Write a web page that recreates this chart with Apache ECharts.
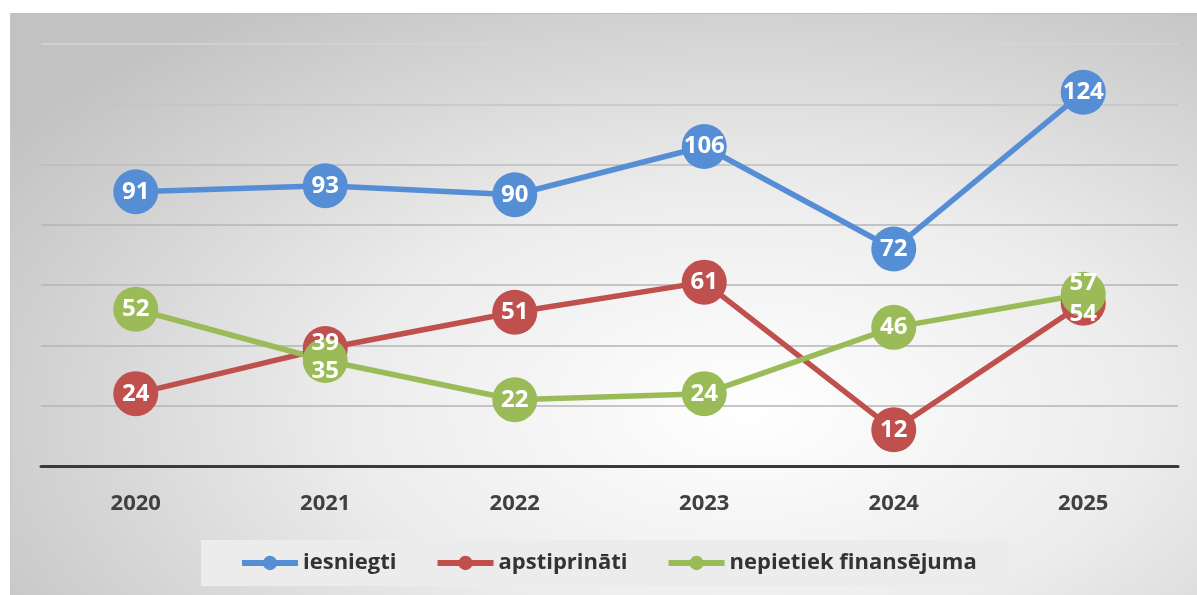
<!DOCTYPE html>
<html>
<head>
<meta charset="utf-8">
<script src="https://cdn.jsdelivr.net/npm/echarts@6/dist/echarts.min.js"></script>
<style>
html, body { margin: 0; padding: 0; background: #fff; }
#frame {
    position: absolute; left: 10px; top: 13px; width: 1187px; height: 582px;
    border-top: 1px solid #bdbdbd; border-left: 1px solid #c8c8c8;
    background: radial-gradient(ellipse 75% 85% at 62% 68%, #ffffff 0%, #ececec 45%, #c2c2c2 100%);
}
#main { width: 1187px; height: 582px; }
</style>
</head>
<body>
<div id="frame"><div id="main"></div></div>
<script>
var years = ['2020', '2021', '2022', '2023', '2024', '2025'];
var iesniegti = [91, 93, 90, 106, 72, 124];
var apstiprinati = [24, 39, 51, 61, 12, 54];
var nepietiek = [52, 35, 22, 24, 46, 57];

// label nudges where two circles overlap
var redOffsets = {1: [0, -5], 5: [0, 11]};
var greenOffsets = {1: [0, 11], 5: [0, -11]};

function pts(values, offsets) {
    var out = [];
    for (var i = 0; i < values.length; i++) {
        var p = {value: values[i]};
        if (offsets && offsets[i]) {
            p.label = {offset: offsets[i]};
        }
        out.push(p);
    }
    return out;
}

function makeSeries(name, color, values, offsets) {
    return {
        name: name,
        type: 'line',
        data: pts(values, offsets),
        symbol: 'circle',
        symbolSize: 45,
        lineStyle: {color: color, width: 5.5},
        itemStyle: {color: color},
        label: {
            show: true,
            position: 'inside',
            color: '#fff',
            fontFamily: 'Open Sans',
            fontWeight: 'bold',
            fontSize: 24
        },
        emphasis: {disabled: true}
    };
}

var option = {
    animation: false,
    grid: {left: 30, right: 20, top: 30, bottom: 130},
    xAxis: {
        type: 'category',
        data: years,
        axisLine: {lineStyle: {color: '#3a3a3a', width: 3}},
        axisTick: {show: false},
        axisLabel: {
            color: '#404040',
            fontFamily: 'Open Sans',
            fontWeight: 'bold',
            fontSize: 22,
            margin: 27
        }
    },
    yAxis: {
        type: 'value',
        min: 0,
        max: 140,
        interval: 20,
        axisLabel: {show: false},
        axisLine: {show: false},
        axisTick: {show: false},
        splitLine: {lineStyle: {
            color: ['#b4b4b4', '#b4b4b4', '#b4b4b4', '#b4b4b4', '#b4b4b4', '#bcbcbc', '#c4c4c4', '#d4d4d4'],
            width: 1.5
        }}
    },
    legend: {
        bottom: 10,
        left: 190,
        backgroundColor: '#ececec',
        padding: [12, 33, 12, 38],
        itemWidth: 56,
        itemHeight: 18,
        itemGap: 38,
        lineStyle: {width: 6},
        textStyle: {
            color: '#333',
            fontFamily: 'Open Sans',
            fontWeight: 'bold',
            fontSize: 22
        },
        data: ['iesniegti', 'apstiprināti', 'nepietiek finansējuma']
    },
    series: [
        makeSeries('iesniegti', '#558ed5', iesniegti),
        makeSeries('apstiprināti', '#c0504d', apstiprinati, redOffsets),
        makeSeries('nepietiek finansējuma', '#9bbb59', nepietiek, greenOffsets)
    ]
};

var myChart = echarts.init(document.getElementById('main'));
myChart.setOption(option);
</script>
</body>
</html>
